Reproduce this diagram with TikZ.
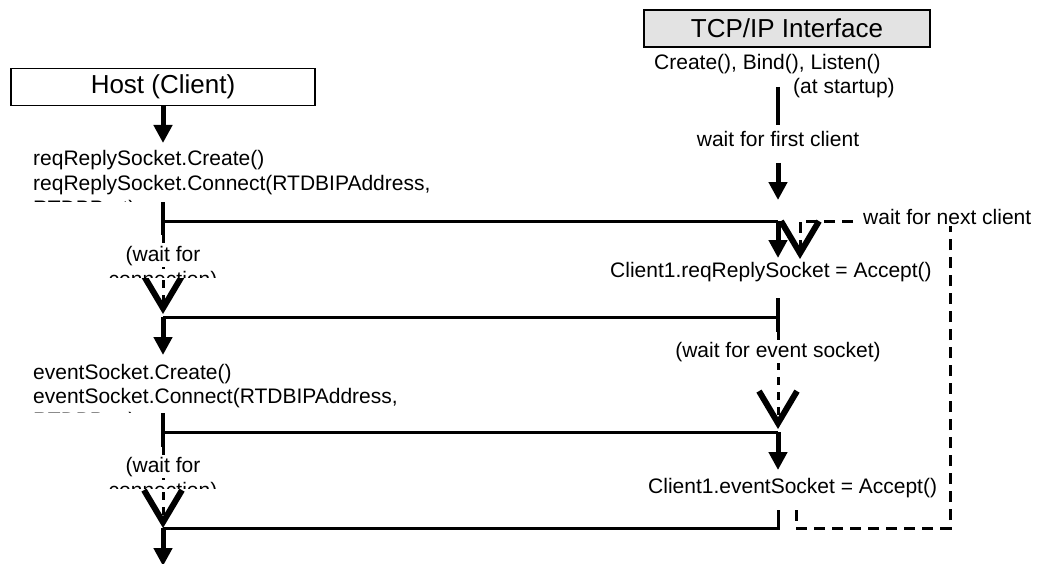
\documentclass[tikz,border=0pt]{standalone}
\usepackage{fontspec}
\setmainfont{Liberation Sans}
\usetikzlibrary{arrows.meta}
\begin{document}
\begin{tikzpicture}[x=1pt,y=-1pt,
  every node/.style={inner sep=0pt},
  title/.style={draw, line width=1.8pt, minimum height=37pt, font=\fontsize{26}{30}\selectfont},
  lbl/.style={font=\fontsize{21}{24}\selectfont},
  mask/.style={lbl, fill=white, inner sep=2pt},
  flow/.style={line width=5pt, -{Triangle[length=18pt,width=18pt]}},
  bar/.style={line width=4.5pt},
  link/.style={line width=3pt},
  waitline/.style={line width=3pt, dash pattern=on 8pt off 7pt,
    -{Straight Barb[sharp,length=32pt,width=38pt,line width=6pt]}},
  loopline/.style={line width=3pt, dash pattern=on 11pt off 7pt,
    -{Straight Barb[sharp,length=32pt,width=38pt,line width=6pt]}},
]
\useasboundingbox (0,0) rectangle (1056,564);

% ---------- headers ----------
\node[title, minimum width=304pt] (host) at (163,87) {Host (Client)};
\node[title, minimum width=286pt, fill=gray!22] (tcp) at (787,28.5) {TCP/IP Interface};

% ---------- key points of the two columns ----------
\coordinate (hA1) at (163,143);
\coordinate (hT1a) at (163,202);
\coordinate (hJ1) at (163,221);
\coordinate (hT1b) at (163,235);
\coordinate (hV1) at (163,314);
\coordinate (hJ2) at (163,317);
\coordinate (hA2) at (163,355);
\coordinate (hT3a) at (163,413);
\coordinate (hJ3) at (163,432);
\coordinate (hT3b) at (163,447);
\coordinate (hV3) at (163,528);
\coordinate (hJ4) at (163,528);
\coordinate (hA4) at (163,566);

\coordinate (tB1a) at (778,87);
\coordinate (tB1b) at (778,125);
\coordinate (tF1a) at (778,163);
\coordinate (tF1b) at (778,200);
\coordinate (tJ1) at (778,221);
\coordinate (tA1) at (778,258);
\coordinate (tT2a) at (778,298);
\coordinate (tJ2) at (778,317);
\coordinate (tT2b) at (778,332);
\coordinate (tV2) at (778,429);
\coordinate (tJ3) at (778,432);
\coordinate (tA3) at (778,470);
\coordinate (tE4) at (778,510);
\coordinate (tJ4) at (778,528);

\coordinate (lA) at (796,510);
\coordinate (lB) at (796,528);
\coordinate (lC) at (950,528);
\coordinate (lD) at (950,221);
\coordinate (lE) at (800,221);
\coordinate (lV) at (800,259);

% ---------- host (client) side ----------
\draw[flow] (host.south) -- (hA1);
\node[lbl, anchor=base west] (rq1) at (33,166) {reqReplySocket.Create()};
\node[lbl, anchor=base west] (rq2) at (33,190) {reqReplySocket.Connect(RTDBIPAddress,};
\begin{scope}
  \clip (20,195) rectangle (500,201);
  \node[lbl, anchor=base west] (rq3) at (33,215) {RTDBPort)};
\end{scope}
\draw[bar] (hT1a) -- (hT1b);
\draw[link] (hJ1) -- (tJ1);
\draw[flow] (tJ1) -- (tA1);

\draw[waitline] (hT1b) -- (hV1);
\begin{scope}
  \clip (100,244) rectangle (230,277);
  \node[mask, anchor=base] (w1a) at (163,261) {(wait for};
  \node[mask, anchor=base] (w1b) at (163,286) {connection)};
\end{scope}

\draw[bar] (tT2a) -- (tT2b);
\draw[link] (tJ2) -- (hJ2);
\draw[flow] (hJ2) -- (hA2);

\node[lbl, anchor=base west] (ev1) at (33,379) {eventSocket.Create()};
\node[lbl, anchor=base west] (ev2) at (33,403) {eventSocket.Connect(RTDBIPAddress,};
\begin{scope}
  \clip (20,408) rectangle (500,412);
  \node[lbl, anchor=base west] (ev3) at (33,427) {RTDBPort)};
\end{scope}
\draw[bar] (hT3a) -- (hT3b);
\draw[link] (hJ3) -- (tJ3);
\draw[flow] (tJ3) -- (tA3);

\draw[waitline] (hT3b) -- (hV3);
\begin{scope}
  \clip (100,456) rectangle (230,488);
  \node[mask, anchor=base] (w3a) at (163,472) {(wait for};
  \node[mask, anchor=base] (w3b) at (163,497) {connection)};
\end{scope}

\draw[link] (tE4) -- (tJ4) -- (hJ4);
\draw[flow] (hJ4) -- (hA4);

% ---------- TCP/IP interface side ----------
\node[lbl, anchor=base west] (cbl) at (654,70) {Create(), Bind(), Listen()};
\node[lbl, anchor=base west] (ats) at (793,94) {(at startup)};
\draw[bar] (tB1a) -- (tB1b);
\node[lbl, anchor=base] (wfc) at (778,147) {wait for first client};
\draw[flow] (tF1a) -- (tF1b);

\node[lbl, anchor=base west] (acc1) at (610,277) {Client1.reqReplySocket = Accept()};
\draw[waitline] (tT2b) -- (tV2);
\node[mask, anchor=base] (wes) at (778,357) {(wait for event socket)};
\node[lbl, anchor=base west] (acc2) at (648,493) {Client1.eventSocket = Accept()};

% loop back for the next client
\draw[loopline] (lA) -- (lB) -- (lC) -- (lD) -- (lE) -- (lV);
\node[mask, anchor=base west, inner xsep=6pt] (wnc) at (857,224) {wait for next client};
\end{tikzpicture}
\end{document}
